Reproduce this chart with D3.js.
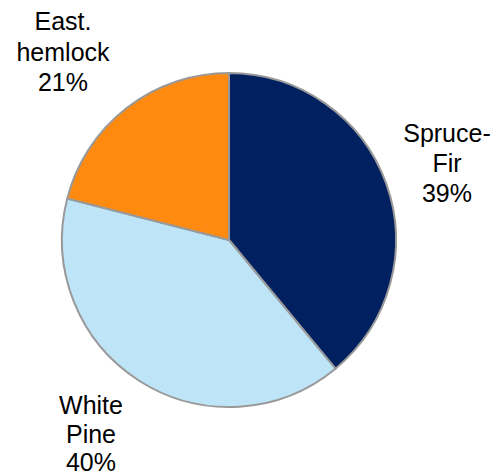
<!DOCTYPE html>
<html><head><meta charset="utf-8">
<script src="https://cdn.jsdelivr.net/npm/d3@7"></script>
<style>body{margin:0;background:#fff}svg{display:block}text{font-family:"Liberation Sans",Arial,sans-serif;font-size:25px;fill:#000}</style>
</head><body><svg id="c" width="494" height="476"></svg>
<script>
const categories = ["Spruce-Fir", "White Pine", "East. hemlock"];
const values = [39, 40, 21];
const labelLines = [["Spruce-", "Fir", "39%"], ["White", "Pine", "40%"], ["East.", "hemlock", "21%"]];
const colors = ["#002060", "#bee4f7", "#ff8a10"];

const svg = d3.select("#c");
const cx = 229, cy = 240, r = 167;
const g = svg.append("g").attr("transform", `translate(${cx},${cy})`);
const pie = d3.pie().sort(null).value(d => d)(values);
const arc = d3.arc().innerRadius(0).outerRadius(r);
g.selectAll("path").data(pie).enter().append("path")
  .attr("d", arc).attr("fill", (d, i) => colors[i])
  .attr("stroke", "#999999").attr("stroke-width", 2).attr("stroke-linejoin", "round");

const labelPos = [[447, 141.5, 30], [91, 414, 28.5], [63, 30, 30.5]];
labelLines.forEach((lines, i) => {
  const t = svg.append("text").attr("text-anchor", "middle");
  lines.forEach((s, j) => t.append("tspan").attr("x", labelPos[i][0]).attr("y", labelPos[i][1] + j * labelPos[i][2]).text(s));
});
</script></body></html>
